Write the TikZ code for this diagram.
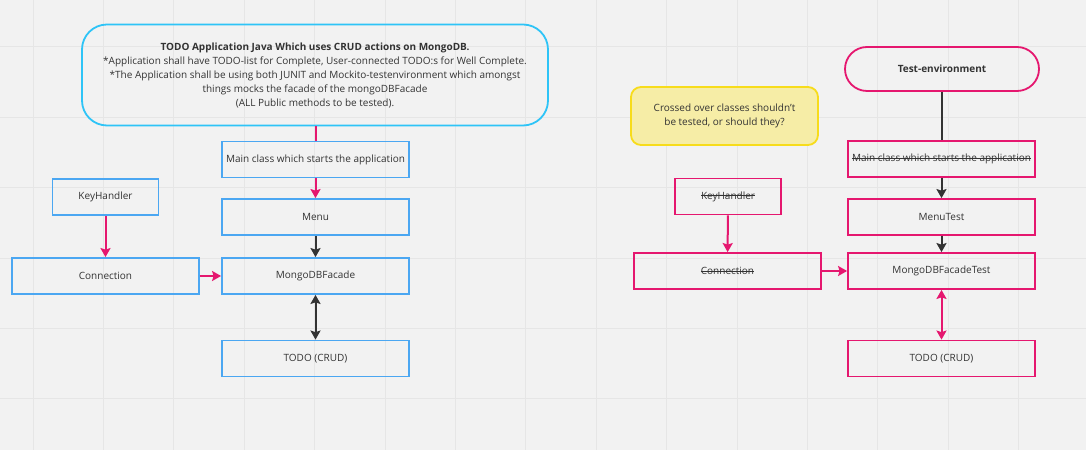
\documentclass[tikz,border=0pt]{standalone}
\usepackage{fontspec}
\setmainfont{Open Sans}
\usetikzlibrary{arrows.meta}
\definecolor{bgc}{HTML}{F2F2F2}
\definecolor{gridc}{HTML}{E6E6E6}
\definecolor{bluec}{HTML}{4BA7F2}
\definecolor{cyanc}{HTML}{2EC4F7}
\definecolor{pinkc}{HTML}{E5176F}
\definecolor{darkc}{HTML}{333333}
\definecolor{notefill}{HTML}{F6EDA6}
\definecolor{noteline}{HTML}{F7DC1B}
\newcommand\mystrike[1]{\leavevmode\setbox0=\hbox{#1}\rlap{\raisebox{0.3em}{\rule{\wd0}{0.7bp}}}\box0}
\tikzset{
  txt/.style={font=\fontsize{10bp}{14bp}\selectfont, text=darkc, align=center},
  bbox/.style={txt, draw=bluec, line width=1.8bp, minimum width=187bp, minimum height=36bp, inner sep=0pt},
  pbox/.style={txt, draw=pinkc, line width=1.8bp, minimum width=187bp, minimum height=36bp, inner sep=0pt},
  pinkarrow/.style={draw=pinkc, line width=2bp, -{Stealth[length=9bp,width=10bp,inset=1.5bp]}},
  darkarrow/.style={draw=darkc, line width=2bp, -{Stealth[length=9bp,width=10bp,inset=1.5bp]}},
  pinkdouble/.style={draw=pinkc, line width=2bp, {Stealth[length=9bp,width=10bp,inset=1.5bp]}-{Stealth[length=9bp,width=10bp,inset=1.5bp]}},
  darkdouble/.style={draw=darkc, line width=2bp, {Stealth[length=9bp,width=10bp,inset=1.5bp]}-{Stealth[length=9bp,width=10bp,inset=1.5bp]}},
  pinkline/.style={draw=pinkc, line width=2bp},
  darkline/.style={draw=darkc, line width=2bp},
  gridline/.style={draw=gridc, line width=1bp}
}
\begin{document}
\begin{tikzpicture}[x=1bp, y=-1bp]
\fill[bgc] (0,0) rectangle (1086,450);
\useasboundingbox (0,0) rectangle (1086,450);
\foreach \gx in {33,103.4,173.8,244.2,314.6,385,455.4,525.8,596.2,666.6,737,807.4,877.8,948.2,1018.6}
  \draw[gridline] (\gx,0) -- (\gx,450);
\foreach \gy in {47,117.4,187.8,258.2,328.6,399}
  \draw[gridline] (0,\gy) -- (1086,\gy);

% left side
\node[txt, draw=cyanc, line width=1.8bp, rounded corners=25bp, minimum width=466bp, minimum height=101bp, inner sep=0pt] (top) at (315,75)
  {\textbf{TODO Application Java Which uses CRUD actions on MongoDB.}\\
   *Application shall have TODO-list for Complete, User-connected TODO:s for Well Complete.\\
   *The Application shall be using both JUNIT and Mockito-testenvironment which amongst\\
   things mocks the facade of the mongoDBFacade\\
   (ALL Public methods to be tested).};
\node[bbox] (main) at (315.5,159.5) {Main class which starts the application};
\node[bbox] (menu) at (315.5,217) {Menu};
\node[bbox] (facade) at (315.5,276) {MongoDBFacade};
\node[bbox] (todo) at (315.5,358.5) {TODO (CRUD)};
\node[bbox, minimum width=106bp] (key) at (105.5,197) {KeyHandler};
\node[bbox] (conn) at (105.5,276) {Connection};

\draw[pinkline] (top.south -| main.north) -- (main.north);
\draw[pinkarrow] (main) -- (menu);
\draw[darkarrow] (menu) -- (facade);
\draw[darkdouble] (facade) -- (todo);
\draw[pinkarrow] (key) -- (conn);
\draw[pinkarrow] (conn) -- (facade);

% right side
\node[txt, draw=pinkc, line width=1.8bp, rounded corners=22bp, minimum width=194bp, minimum height=44bp, inner sep=0pt, font=\fontsize{10bp}{14bp}\selectfont\bfseries] (env) at (942,69) {Test-environment};
\node[txt, draw=noteline, fill=notefill, line width=1.8bp, rounded corners=10bp, minimum width=187bp, minimum height=58bp, inner sep=0pt] (note) at (724.5,116)
  {Crossed over classes shouldn't\\ be tested, or should they?};
\node[pbox] (rmain) at (941.5,159) {\mystrike{Main class which starts the application}};
\node[pbox] (menutest) at (941.5,217) {MenuTest};
\node[pbox] (facadetest) at (941.5,271) {MongoDBFacadeTest};
\node[pbox] (rtodo) at (941.5,358.5) {TODO (CRUD)};
\node[pbox, minimum width=106bp] (rkey) at (728,196.5) {\mystrike{KeyHandler}};
\node[pbox] (rconn) at (727.5,271) {\mystrike{Connection}};

\draw[darkline] (env.south -| rmain.north) -- (rmain.north);
\draw[darkarrow] (rmain) -- (menutest);
\draw[darkarrow] (menutest) -- (facadetest);
\draw[pinkdouble] (facadetest) -- (rtodo);
\draw[pinkarrow] (rkey) -- (rconn);
\draw[pinkarrow] (rconn) -- (facadetest);
\end{tikzpicture}
\end{document}
